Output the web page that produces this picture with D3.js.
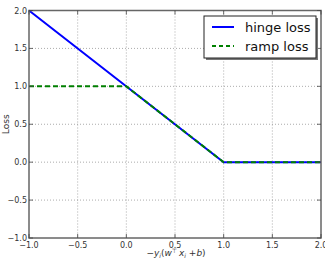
<!DOCTYPE html>
<html>
<head>
<meta charset="utf-8">
<script src="https://cdn.jsdelivr.net/npm/d3@7"></script>
<style>
  body { margin: 0; background: #fff; }
  text { font-family: "DejaVu Sans", sans-serif; }
</style>
</head>
<body>
<svg id="chart" width="325" height="260"></svg>
<script>
// margin (y_i(w'x_i+b)) values and losses
var hingeX = [-1, 1, 2];
var hingeY = [2, 0, 0];
var rampX = [-1, 0, 1, 2];
var rampY = [1, 1, 0, 0];
var xTicks = [-1.0, -0.5, 0.0, 0.5, 1.0, 1.5, 2.0];
var yTicks = [-1.0, -0.5, 0.0, 0.5, 1.0, 1.5, 2.0];
var seriesNames = ["hinge loss", "ramp loss"];

var svg = d3.select('#chart');
var pLeft = 29, pRight = 321, pTop = 10.5, pBottom = 238;

var x = d3.scaleLinear().domain([-1, 2]).range([pLeft, pRight]);
var y = d3.scaleLinear().domain([-1, 2]).range([pBottom, pTop]);

// grid
var grid = svg.append('g').attr('stroke', '#888').attr('stroke-width', 0.7)
  .attr('stroke-dasharray', '1,2');
xTicks.slice(1, -1).forEach(function(t) {
  grid.append('line').attr('x1', x(t)).attr('x2', x(t)).attr('y1', pTop).attr('y2', pBottom);
});
yTicks.slice(1, -1).forEach(function(t) {
  grid.append('line').attr('y1', y(t)).attr('y2', y(t)).attr('x1', pLeft).attr('x2', pRight);
});

var line = d3.line().x(function(d) { return x(d[0]); }).y(function(d) { return y(d[1]); });

svg.append('path')
  .datum(d3.zip(hingeX, hingeY))
  .attr('d', line)
  .attr('fill', 'none').attr('stroke', '#0000ff').attr('stroke-width', 2);

svg.append('path')
  .datum(d3.zip(rampX, rampY))
  .attr('d', line)
  .attr('fill', 'none').attr('stroke', '#008000').attr('stroke-width', 2)
  .attr('stroke-dasharray', '5,3');

// frame
svg.append('rect').attr('x', pLeft).attr('y', pTop)
  .attr('width', pRight - pLeft).attr('height', pBottom - pTop)
  .attr('fill', 'none').attr('stroke', '#666').attr('stroke-width', 1.5);

// ticks
var ticks = svg.append('g').attr('stroke', '#444').attr('stroke-width', 0.8);
xTicks.forEach(function(t) {
  ticks.append('line').attr('x1', x(t)).attr('x2', x(t)).attr('y1', pBottom).attr('y2', pBottom - 4);
  ticks.append('line').attr('x1', x(t)).attr('x2', x(t)).attr('y1', pTop).attr('y2', pTop + 4);
});
yTicks.forEach(function(t) {
  ticks.append('line').attr('y1', y(t)).attr('y2', y(t)).attr('x1', pLeft).attr('x2', pLeft + 4);
  ticks.append('line').attr('y1', y(t)).attr('y2', y(t)).attr('x1', pRight).attr('x2', pRight - 4);
});

var fmt = function(t) { return d3.format('.1f')(t).replace('-', '\u2212'); };

svg.append('g').selectAll('text').data(xTicks).enter().append('text')
  .attr('x', function(d) { return x(d); })
  .attr('y', pBottom + 10)
  .attr('text-anchor', 'middle')
  .attr('font-size', 8).attr('fill', '#333')
  .text(fmt);

svg.append('g').selectAll('text').data(yTicks).enter().append('text')
  .attr('x', pLeft - 2)
  .attr('y', function(d) { return y(d) + 3; })
  .attr('text-anchor', 'end')
  .attr('font-size', 8).attr('fill', '#333')
  .text(fmt);

svg.append('text')
  .attr('transform', 'translate(9,' + (pTop + pBottom) / 2 + ') rotate(-90)')
  .attr('text-anchor', 'middle')
  .attr('font-size', 9).attr('fill', '#333')
  .text('Loss');

// x label written as one text with sub/superscript tspans
var xl = svg.append('text')
  .attr('x', 176).attr('y', 256)
  .attr('text-anchor', 'middle')
  .attr('font-family', '"DejaVu Serif", serif')
  .attr('font-size', 9).attr('fill', '#333');
xl.append('tspan').text('\u2212');
xl.append('tspan').attr('font-style', 'italic').text('y');
xl.append('tspan').attr('font-style', 'italic').attr('font-size', 6).attr('dy', 2).text('i');
xl.append('tspan').attr('dy', -2).text('(');
xl.append('tspan').attr('font-style', 'italic').text('w');
xl.append('tspan').attr('font-size', 6).attr('dy', -3).text('\u22a4 ');
xl.append('tspan').attr('dy', 3).attr('font-style', 'italic').text('x');
xl.append('tspan').attr('font-style', 'italic').attr('font-size', 6).attr('dy', 2).text('i');
xl.append('tspan').attr('dy', -2).text(' +');
xl.append('tspan').attr('font-style', 'italic').text('b');
xl.append('tspan').text(')');

// legend
var lg = svg.append('g').attr('transform', 'translate(204,16)');
lg.append('rect').attr('x', 2).attr('y', 2).attr('width', 112).attr('height', 42).attr('fill', '#777');
lg.append('rect').attr('width', 112).attr('height', 42).attr('fill', '#fff')
  .attr('stroke', '#222').attr('stroke-width', 1);
var colors = ['#0000ff', '#008000'];
var dashes = [null, '4,3'];
seriesNames.forEach(function(name, i) {
  var yy = 11 + i * 19;
  lg.append('line').attr('x1', 8).attr('x2', 30).attr('y1', yy).attr('y2', yy)
    .attr('stroke', colors[i]).attr('stroke-width', 2).attr('stroke-dasharray', dashes[i]);
  lg.append('text').attr('x', 41).attr('y', yy + 5).attr('font-size', 13).attr('fill', '#111').text(name);
});
</script>
</body>
</html>
